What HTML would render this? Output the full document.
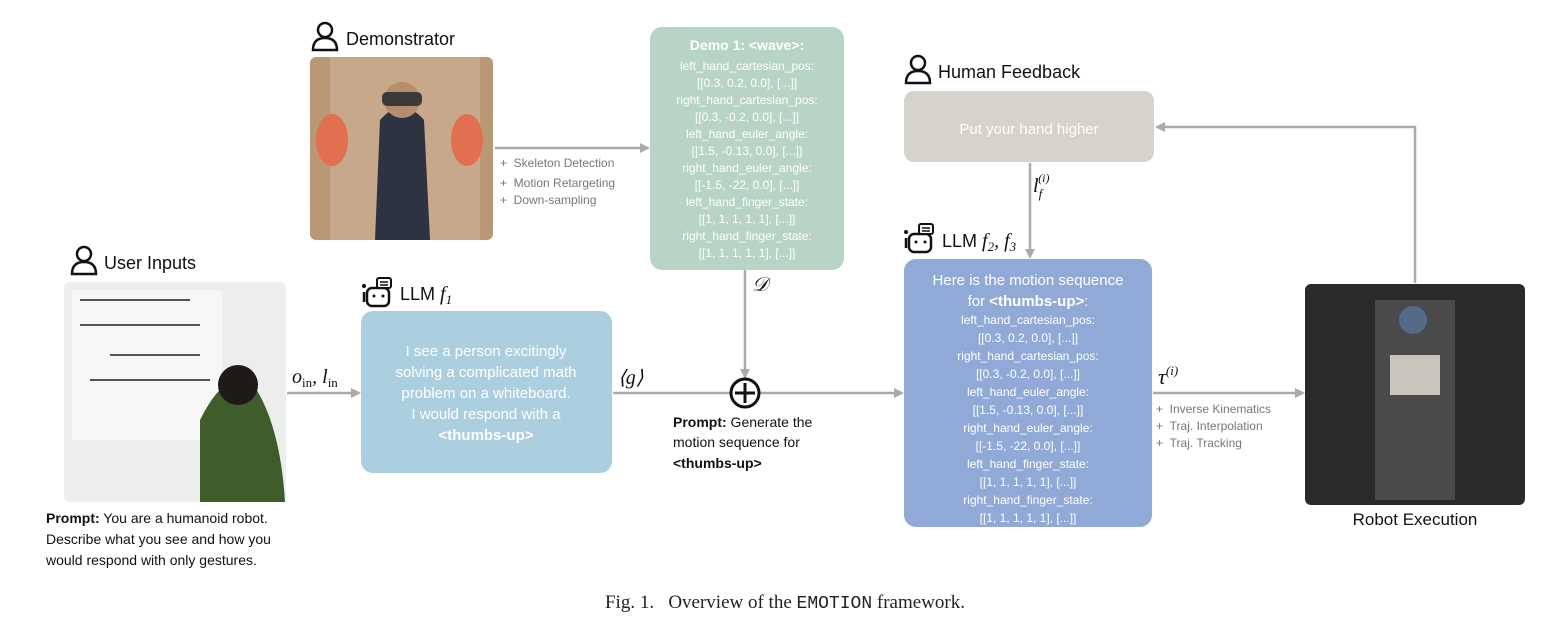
<!DOCTYPE html>
<html><head><meta charset="utf-8"><style>
body{margin:0;background:#fff;}
svg{display:block}
.s{font-family:"Liberation Sans",sans-serif}
.m{font-family:"Liberation Serif",serif;font-style:italic}
</style></head><body>
<svg width="1568" height="630" viewBox="0 0 1568 630" xmlns="http://www.w3.org/2000/svg">
<defs>
<marker id="a" markerWidth="10" markerHeight="10" refX="8" refY="5" orient="auto" markerUnits="userSpaceOnUse"><path d="M0,0 L10,5 L0,10 z" fill="#aaa"/></marker>
<g id="person"><circle cx="0" cy="-6" r="7" fill="none" stroke="#111" stroke-width="2.5"/><path d="M-12,14 Q-12,2 0,2 Q12,2 12,14 Z" fill="none" stroke="#111" stroke-width="2.5"/></g>
<g id="bot"><rect x="-13" y="-6" width="22" height="18" rx="5" fill="none" stroke="#111" stroke-width="2.5"/><rect x="-3" y="-16" width="14" height="10" rx="2" fill="#fff" stroke="#111" stroke-width="2"/><line x1="0" y1="-12" x2="8" y2="-12" stroke="#111" stroke-width="1.5"/><line x1="0" y1="-9" x2="8" y2="-9" stroke="#111" stroke-width="1.5"/><circle cx="-6" cy="2" r="1.5" fill="#111"/><circle cx="3" cy="2" r="1.5" fill="#111"/><line x1="-16" y1="-2" x2="-16" y2="8" stroke="#111" stroke-width="2.5"/><circle cx="-16" cy="-8" r="2" fill="#111"/></g>
</defs>

<!-- photos -->
<rect x="310" y="57" width="183" height="183" rx="6" fill="#b99876"/>
<rect x="330" y="57" width="150" height="183" fill="#c7a88a"/>
<path d="M375,240 L380,120 Q402,95 424,120 L430,240 Z" fill="#2d3340"/>
<circle cx="402" cy="100" r="18" fill="#b88c6e"/>
<rect x="382" y="92" width="40" height="14" rx="5" fill="#3a3a3a"/>
<ellipse cx="332" cy="140" rx="16" ry="26" fill="#e07050"/>
<ellipse cx="467" cy="140" rx="16" ry="26" fill="#e07050"/>
<rect x="64" y="282" width="222" height="220" rx="6" fill="#eceeee"/>
<rect x="72" y="290" width="150" height="150" fill="#f7f7f7"/>
<path d="M80,300 L190,300 M80,325 L200,325 M110,355 L200,355 M90,380 L210,380" stroke="#555" stroke-width="2"/>
<path d="M200,502 L200,420 Q225,370 250,380 Q280,420 285,502 Z" fill="#3e5d2a"/>
<circle cx="238" cy="385" r="20" fill="#1e1a18"/>
<rect x="1305" y="284" width="220" height="221" rx="6" fill="#2a2a2a"/>
<rect x="1375" y="300" width="80" height="200" fill="#4a4a4a"/>
<rect x="1390" y="355" width="50" height="40" fill="#c9c5bd"/>
<circle cx="1413" cy="320" r="14" fill="#556a88"/>

<!-- labels -->
<use href="#person" x="325" y="36"/>
<text x="346" y="45" class="s" font-size="18" fill="#111">Demonstrator</text>
<use href="#person" x="918" y="69"/>
<text x="938" y="78" class="s" font-size="18" fill="#111">Human Feedback</text>
<use href="#person" x="84" y="260"/>
<text x="104" y="269" class="s" font-size="18" fill="#111">User Inputs</text>
<use href="#bot" x="380" y="294"/>
<text x="400" y="300" class="s" font-size="18" fill="#111">LLM <tspan class="m" font-size="20">f</tspan><tspan class="m" font-size="13" dy="4">1</tspan></text>
<use href="#bot" x="922" y="240"/>
<text x="942" y="247" class="s" font-size="18" fill="#111">LLM <tspan class="m" font-size="20">f</tspan><tspan class="m" font-size="13" dy="4">2</tspan><tspan class="m" font-size="20" dy="-4">, f</tspan><tspan class="m" font-size="13" dy="4">3</tspan></text>

<!-- boxes -->
<rect x="650" y="27" width="194" height="243" rx="12" fill="#b8d4c7"/>
<g class="s" fill="#fff" text-anchor="middle" font-size="12">
<text x="747" y="50" font-size="14" font-weight="bold">Demo 1: &lt;wave&gt;:</text>
<text x="747" y="70">left_hand_cartesian_pos:</text>
<text x="747" y="87">[[0.3, 0.2, 0.0], [...]]</text>
<text x="747" y="104">right_hand_cartesian_pos:</text>
<text x="747" y="121">[[0.3, -0.2, 0.0], [...]]</text>
<text x="747" y="138">left_hand_euler_angle:</text>
<text x="747" y="155">[[1.5, -0.13, 0.0], [...]]</text>
<text x="747" y="172">right_hand_euler_angle:</text>
<text x="747" y="189">[[-1.5, -22, 0.0], [...]]</text>
<text x="747" y="206">left_hand_finger_state:</text>
<text x="747" y="223">[[1, 1, 1, 1, 1], [...]]</text>
<text x="747" y="240">right_hand_finger_state:</text>
<text x="747" y="257">[[1, 1, 1, 1, 1], [...]]</text>
</g>
<rect x="904" y="91" width="250" height="71" rx="10" fill="#d6d2cc"/>
<text x="1029" y="134" class="s" font-size="15" fill="#fff" text-anchor="middle">Put your hand higher</text>
<rect x="361" y="311" width="251" height="162" rx="12" fill="#abcfdf"/>
<g class="s" fill="#fff" text-anchor="middle" font-size="15">
<text x="486" y="356">I see a person excitingly</text>
<text x="486" y="377">solving a complicated math</text>
<text x="486" y="398">problem on a whiteboard.</text>
<text x="486" y="419">I would respond with a</text>
<text x="486" y="440" font-weight="bold">&lt;thumbs-up&gt;</text>
</g>
<rect x="904" y="259" width="248" height="268" rx="12" fill="#91a9d6"/>
<g class="s" fill="#fff" text-anchor="middle" font-size="12">
<text x="1028" y="285" font-size="15">Here is the motion sequence</text>
<text x="1028" y="306" font-size="15">for <tspan font-weight="bold">&lt;thumbs-up&gt;</tspan>:</text>
<text x="1028" y="324">left_hand_cartesian_pos:</text>
<text x="1028" y="342">[[0.3, 0.2, 0.0], [...]]</text>
<text x="1028" y="360">right_hand_cartesian_pos:</text>
<text x="1028" y="378">[[0.3, -0.2, 0.0], [...]]</text>
<text x="1028" y="396">left_hand_euler_angle:</text>
<text x="1028" y="414">[[1.5, -0.13, 0.0], [...]]</text>
<text x="1028" y="432">right_hand_euler_angle:</text>
<text x="1028" y="450">[[-1.5, -22, 0.0], [...]]</text>
<text x="1028" y="468">left_hand_finger_state:</text>
<text x="1028" y="486">[[1, 1, 1, 1, 1], [...]]</text>
<text x="1028" y="504">right_hand_finger_state:</text>
<text x="1028" y="522">[[1, 1, 1, 1, 1], [...]]</text>
</g>

<!-- arrows -->
<g stroke="#aaa" stroke-width="2.5" fill="none">
<line x1="495" y1="148" x2="648" y2="148" marker-end="url(#a)"/>
<line x1="1030" y1="163" x2="1030" y2="257" marker-end="url(#a)"/>
<line x1="287" y1="393" x2="359" y2="393" marker-end="url(#a)"/>
<line x1="613" y1="393" x2="730" y2="393"/>
<line x1="745" y1="270" x2="745" y2="377" marker-end="url(#a)"/>
<line x1="760" y1="393" x2="902" y2="393" marker-end="url(#a)"/>
<line x1="1153" y1="393" x2="1303" y2="393" marker-end="url(#a)"/>
<polyline points="1415,283 1415,127 1157,127" marker-end="url(#a)"/>
</g>
<circle cx="745" cy="393" r="14" fill="#fff" stroke="#111" stroke-width="3"/>
<path d="M745,383 V403 M735,393 H755" stroke="#111" stroke-width="3"/>

<!-- bullets -->
<g class="s" font-size="12" fill="#777">
<text x="500" y="167">+&#160;&#160;Skeleton Detection</text>
<text x="500" y="187">+&#160;&#160;Motion Retargeting</text>
<text x="500" y="204">+&#160;&#160;Down-sampling</text>
<text x="1156" y="413">+&#160;&#160;Inverse Kinematics</text>
<text x="1156" y="430">+&#160;&#160;Traj. Interpolation</text>
<text x="1156" y="447">+&#160;&#160;Traj. Tracking</text>
</g>

<!-- math labels -->
<text x="292" y="383" class="m" font-size="20" fill="#111">o<tspan font-size="13" font-style="normal" dy="4">in</tspan><tspan dy="-4">, l</tspan><tspan font-size="13" font-style="normal" dy="4">in</tspan></text>
<text x="618" y="384" class="m" font-size="20" fill="#111">⟨g⟩</text>
<text x="752" y="291" class="m" font-size="20" fill="#111">𝒟</text>
<text x="1033" y="192" class="m" font-size="20" fill="#111">l<tspan font-size="13" dy="6">f</tspan><tspan font-size="12" dy="-16" dx="-4">(i)</tspan></text>
<text x="1158" y="384" class="m" font-size="22" fill="#111">τ<tspan font-size="13" dy="-9">(i)</tspan></text>

<!-- prompts -->
<g class="s" font-size="14" fill="#111">
<text x="673" y="427"><tspan font-weight="bold">Prompt:</tspan> Generate the</text>
<text x="673" y="447">motion sequence for</text>
<text x="673" y="468" font-weight="bold">&lt;thumbs-up&gt;</text>
<text x="46" y="523"><tspan font-weight="bold">Prompt:</tspan> You are a humanoid robot.</text>
<text x="46" y="544">Describe what you see and how you</text>
<text x="46" y="565">would respond with only gestures.</text>
</g>
<text x="1415" y="525" class="s" font-size="17" fill="#111" text-anchor="middle">Robot Execution</text>

<text x="785" y="608" font-family="Liberation Serif,serif" font-size="19" fill="#222" text-anchor="middle">Fig. 1.&#160;&#160; Overview of the <tspan font-family="Liberation Mono,monospace" font-size="18">EMOTION</tspan> framework.</text>
</svg>
</body></html>
